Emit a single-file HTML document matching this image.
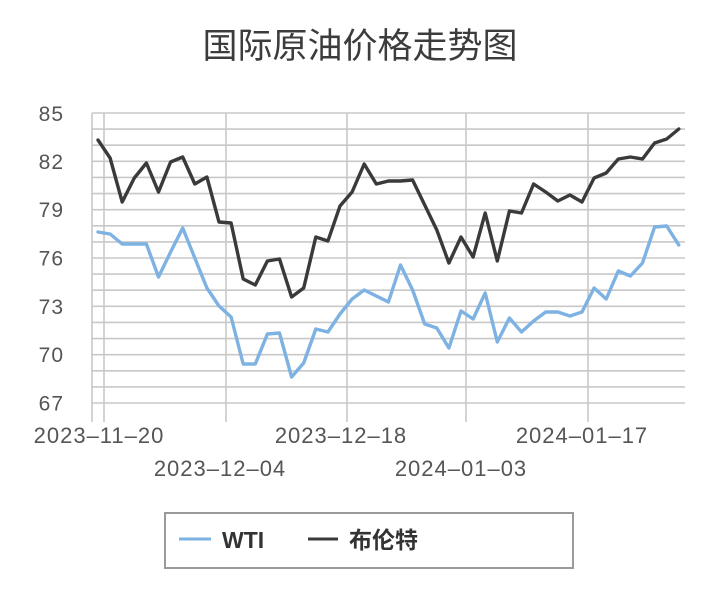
<!DOCTYPE html>
<html>
<head>
<meta charset="utf-8">
<style>
html,body{margin:0;padding:0;background:#fff;}
svg{display:block;}
</style>
</head>
<body>
<svg width="720" height="616" viewBox="0 0 720 616" xmlns="http://www.w3.org/2000/svg">
<rect width="720" height="616" fill="#fff"/>
<text x="360" y="58" text-anchor="middle" font-family="'Liberation Sans','Noto Sans CJK SC',sans-serif" font-size="35" fill="#3c3c3c">国际原油价格走势图</text>

<g stroke="#c8c8c8" stroke-width="1.6" fill="none">
<line x1="92" y1="113" x2="685" y2="113"/>
<line x1="92" y1="129.1" x2="685" y2="129.1"/>
<line x1="92" y1="145.2" x2="685" y2="145.2"/>
<line x1="92" y1="161.3" x2="685" y2="161.3"/>
<line x1="92" y1="177.4" x2="685" y2="177.4"/>
<line x1="92" y1="193.6" x2="685" y2="193.6"/>
<line x1="92" y1="209.7" x2="685" y2="209.7"/>
<line x1="92" y1="225.8" x2="685" y2="225.8"/>
<line x1="92" y1="241.9" x2="685" y2="241.9"/>
<line x1="92" y1="258" x2="685" y2="258"/>
<line x1="92" y1="274.1" x2="685" y2="274.1"/>
<line x1="92" y1="290.2" x2="685" y2="290.2"/>
<line x1="92" y1="306.3" x2="685" y2="306.3"/>
<line x1="92" y1="322.4" x2="685" y2="322.4"/>
<line x1="92" y1="338.6" x2="685" y2="338.6"/>
<line x1="92" y1="354.7" x2="685" y2="354.7"/>
<line x1="92" y1="370.8" x2="685" y2="370.8"/>
<line x1="92" y1="386.9" x2="685" y2="386.9"/>
<line x1="92" y1="403" x2="685" y2="403"/>
<line x1="92" y1="113" x2="92" y2="422"/>
<line x1="104" y1="113" x2="104" y2="422"/>
<line x1="226" y1="113" x2="226" y2="422"/>
<line x1="347" y1="113" x2="347" y2="422"/>
<line x1="466" y1="113" x2="466" y2="422"/>
<line x1="588" y1="113" x2="588" y2="422"/>
</g>

<g font-family="'Liberation Sans',sans-serif" font-size="21" fill="#555" text-anchor="end" letter-spacing="1">
<text x="64" y="121">85</text>
<text x="64" y="169">82</text>
<text x="64" y="217">79</text>
<text x="64" y="265.5">76</text>
<text x="64" y="314">73</text>
<text x="64" y="362">70</text>
<text x="64" y="410.5">67</text>
</g>

<g font-family="'Liberation Sans',sans-serif" font-size="22" fill="#555" text-anchor="middle" letter-spacing="1">
<text x="99" y="443">2023–11–20</text>
<text x="341" y="443">2023–12–18</text>
<text x="582" y="443">2024–01–17</text>
<text x="220" y="476">2023–12–04</text>
<text x="461" y="476">2024–01–03</text>
</g>

<polyline fill="none" stroke="#7db2e2" stroke-width="3.4" stroke-linejoin="round" stroke-linecap="round"
points="98,232 110.1,234 122.2,244 134.3,244 146.4,244 158.5,277 170.6,252 182.7,228 194.8,258 206.9,288 219,306 231.1,317 243.2,364 255.3,364 267.4,334 279.5,333 291.6,377 303.7,363 315.8,329 327.9,332 340,314 352.1,299 364.2,290 376.3,296 388.4,302 400.5,265 412.6,290 424.7,324 436.8,328 448.9,348 461,311 473.1,319 485.2,293 497.3,342 509.4,318 521.5,332 533.6,321 545.7,312 557.8,312 569.9,316 582,312 594.1,288 606.2,299 618.3,271 630.4,276 642.5,263 654.6,227 666.7,226 678.8,245"/>

<polyline fill="none" stroke="#3a3a3a" stroke-width="3.4" stroke-linejoin="round" stroke-linecap="round"
points="98,140 110.1,158 122.2,202 134.3,178 146.4,163 158.5,192 170.6,162 182.7,157 194.8,184 206.9,177 219,222 231.1,223 243.2,279 255.3,285 267.4,261 279.5,259 291.6,297 303.7,288 315.8,237 327.9,241 340,206 352.1,192 364.2,164 376.3,184 388.4,181 400.5,181 412.6,180 424.7,205 436.8,230 448.9,263 461,237 473.1,257 485.2,213 497.3,261 509.4,211 521.5,213 533.6,184 545.7,192 557.8,201 569.9,195 582,202 594.1,178 606.2,173 618.3,159 630.4,157 642.5,159 654.6,143 666.7,139 678.8,129"/>

<rect x="165" y="513" width="408" height="55" fill="#fff" stroke="#9a9a9a" stroke-width="2"/>
<line x1="179" y1="539" x2="211" y2="539" stroke="#7db2e2" stroke-width="3"/>
<text x="222" y="548" font-family="'Liberation Sans',sans-serif" font-size="23" font-weight="bold" fill="#333">WTI</text>
<line x1="308" y1="539" x2="338" y2="539" stroke="#3a3a3a" stroke-width="3"/>
<text x="349" y="548" font-family="'Liberation Sans','Noto Sans CJK SC',sans-serif" font-size="23" font-weight="bold" fill="#333">布伦特</text>
</svg>
</body>
</html>
